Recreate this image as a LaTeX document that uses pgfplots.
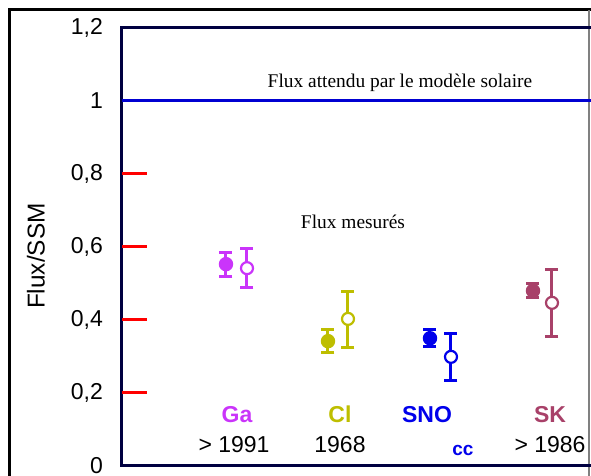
\documentclass[border=0pt]{standalone}
\usepackage{pgfplots}
\pgfplotsset{compat=1.18}
\usepackage{pgfplotstable}
\usepackage{fontspec}
\setmainfont{Liberation Sans}
\newfontfamily\timesf{Liberation Serif}
\definecolor{gaC}{RGB}{202,52,250}
\definecolor{clC}{RGB}{190,190,0}
\definecolor{snoC}{RGB}{0,0,235}
\definecolor{skC}{RGB}{168,65,105}
\definecolor{navy}{RGB}{0,0,64}
\definecolor{lineB}{RGB}{0,0,210}

\pgfplotstableread{
x y ep em
226 0.553 0.033 0.033
}\gaF
\pgfplotstableread{
x y ep em
247 0.542 0.053 0.054
}\gaO
\pgfplotstableread{
x y ep em
328 0.342 0.031 0.032
}\clF
\pgfplotstableread{
x y ep em
348 0.403 0.074 0.077
}\clO
\pgfplotstableread{
x y ep em
430 0.350 0.024 0.022
}\snoF
\pgfplotstableread{
x y ep em
451 0.299 0.065 0.066
}\snoO
\pgfplotstableread{
x y ep em
533 0.480 0.021 0.019
}\skF
\pgfplotstableread{
x y ep em
552 0.447 0.090 0.091
}\skO

\begin{document}
\begin{tikzpicture}
\useasboundingbox (0,0) rectangle (295.5pt,238pt);
% outer frame
\draw[black, line width=1.5pt] (5pt,0pt) -- (5pt,233pt) -- (295.5pt,233pt);
\draw[gray, line width=0.6pt] (294.5pt,0pt) -- (294.5pt,233pt);
\begin{axis}[
  at={(61pt,5pt)}, anchor=south west,
  scale only axis, width=239pt, height=219pt,
  xmin=122, xmax=600, ymin=0, ymax=1.2,
  clip=false,
  axis line style={navy, line width=1.5pt},
  xtick=\empty,
  ytick={0,0.2,...,1.2},
  major tick length=0pt,
  ytick pos=left,
  yticklabel style={font=\fontsize{11.5}{13}\selectfont, xshift=-6pt},
  /pgf/number format/assume math mode=true,
  /pgf/number format/use comma,
  /pgf/number format/fixed,
]
\addplot[lineB, line width=1.5pt] coordinates {(122,1) (591,1)};
% red tick marks
\foreach \v in {0.2,0.4,0.6,0.8}{
  \edef\tmp{\noexpand\draw[red, line width=1.5pt] (axis cs:122.5,\v) -- (axis cs:147,\v);}\tmp
}

\pgfplotsset{
  fbar/.style={only marks, mark=*, mark size=3pt,
    error bars/.cd, y dir=both, y explicit,
    error bar style={line width=1.5pt, solid},
    error mark options={rotate=90, mark size=3.25pt, line width=1.5pt}},
  obar/.style={only marks, mark=*, mark size=3pt, mark options={fill=white, line width=1.1pt},
    error bars/.cd, y dir=both, y explicit,
    error bar style={line width=1.5pt, solid},
    error mark options={rotate=90, mark size=3.25pt, line width=1.5pt, fill=none}},
}
\addplot[gaC, line width=1.2pt, fbar] table[x=x, y=y, y error plus=ep, y error minus=em] {\gaF};
\addplot[gaC, line width=1.2pt, obar] table[x=x, y=y, y error plus=ep, y error minus=em] {\gaO};
\addplot[clC, line width=1.2pt, fbar] table[x=x, y=y, y error plus=ep, y error minus=em] {\clF};
\addplot[clC, line width=1.2pt, obar] table[x=x, y=y, y error plus=ep, y error minus=em] {\clO};
\addplot[snoC, line width=1.2pt, fbar] table[x=x, y=y, y error plus=ep, y error minus=em] {\snoF};
\addplot[snoC, line width=1.2pt, obar] table[x=x, y=y, y error plus=ep, y error minus=em] {\snoO};
\addplot[skC, line width=1.2pt, fbar] table[x=x, y=y, y error plus=ep, y error minus=em] {\skF};
\addplot[skC, line width=1.2pt, obar] table[x=x, y=y, y error plus=ep, y error minus=em] {\skO};

\node[anchor=base, font=\timesf\fontsize{9.7}{11}\selectfont] at (axis cs:400,1.038) {Flux attendu par le modèle solaire};
\node[anchor=base, font=\timesf\fontsize{9.7}{11}\selectfont] at (axis cs:353,0.652) {Flux mesurés};

\node[rotate=90, font=\fontsize{12.2}{13}\selectfont] at (axis cs:36,0.575) {Flux/SSM};

\tikzset{cat/.style={anchor=base, font=\bfseries\fontsize{11.5}{13}\selectfont},
         yr/.style={anchor=base, font=\fontsize{11.5}{13}\selectfont}}
\node[cat, text=gaC] at (axis cs:237,0.1205) {Ga};
\node[yr] at (axis cs:234,0.038) {> 1991};
\node[cat, text=clC] at (axis cs:340,0.1205) {Cl};
\node[yr] at (axis cs:340,0.038) {1968};
\node[cat, text=snoC] at (axis cs:427,0.1205) {SNO};
\node[anchor=base, text=snoC, font=\bfseries\fontsize{9.5}{11}\selectfont] at (axis cs:463,0.030) {cc};
\node[cat, text=skC] at (axis cs:550,0.1205) {SK};
\node[yr] at (axis cs:550,0.038) {> 1986};
\end{axis}
\end{tikzpicture}
\end{document}
